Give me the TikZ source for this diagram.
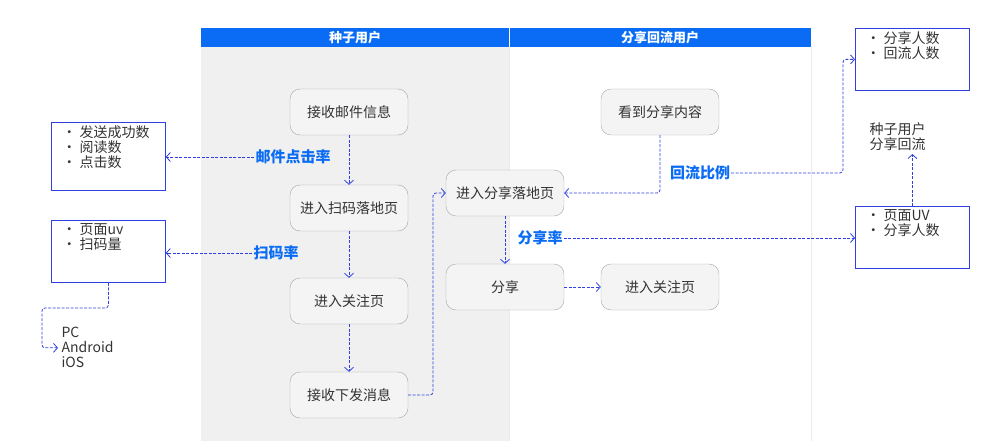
\documentclass[tikz,border=0pt]{standalone}
\usepackage{fontspec}
\setmainfont{Noto Sans CJK SC}
\usetikzlibrary{arrows.meta,calc}
\definecolor{LaneBlue}{HTML}{0A6CF5}
\definecolor{LinkBlue}{HTML}{2F3FE0}
\definecolor{StepGray}{HTML}{F4F4F4}
\newcommand{\statlist}[2]{\parbox[t][#1][t]{92pt}{\setlength{\baselineskip}{15pt}#2}}
\tikzset{
  flowstep/.style={draw=black!35,fill=StepGray,rounded corners=10pt,minimum width=118pt,minimum height=46pt,font=\fontsize{14}{16}\selectfont,text=black!80},
  stat/.style={draw=LinkBlue,thick,align=left,anchor=north west,inner xsep=11pt,inner ysep=3pt,font=\fontsize{14}{15}\selectfont,text=black!80},
  link/.style={draw=LinkBlue,dashed,thick,dash pattern=on 3pt off 1.5pt,-{Straight Barb[length=4pt,width=9pt]},rounded corners=3pt},
  rate/.style={text=LaneBlue,font=\bfseries\fontsize{15}{17}\selectfont,inner sep=1pt}
}
\begin{document}
\begin{tikzpicture}[x=1pt,y=-1pt]
  \useasboundingbox (0,0) rectangle (998,441);
  % swim lanes
  \fill[black!6] (201,47) rectangle (509,441);
  \draw[black!8] (509,47) -- (509,441) (811,47) -- (811,441);
  \fill[LaneBlue] (201,28) rectangle (811,47);
  \draw[white] (509,28) -- (509,47);
  \node[white,font=\bfseries\fontsize{13}{14}\selectfont] at (355,37.5) {种子用户};
  \node[white,font=\bfseries\fontsize{13}{14}\selectfont] at (660,37.5) {分享回流用户};

  % steps
  \node[flowstep] (mail) at (349,112) {接收邮件信息};
  \node[flowstep] (scan) at (349,208) {进入扫码落地页};
  \node[flowstep] (follow) at (349,301) {进入关注页};
  \node[flowstep] (push) at (349,395) {接收下发消息};
  \node[flowstep] (see) at (660,112) {看到分享内容};
  \node[flowstep] (land) at (505,193) {进入分享落地页};
  \node[flowstep] (share) at (505,287) {分享};
  \node[flowstep] (follow2) at (660,287) {进入关注页};

  % stat boxes
  \node[stat] (mailstat) at (51,122) {\statlist{62pt}{• 发送成功数\\• 阅读数\\• 点击数}};
  \node[stat] (scanstat) at (51,220) {\statlist{56pt}{• 页面uv\\• 扫码量}};
  \node[stat] (backstat) at (855,28) {\statlist{56pt}{• 分享人数\\• 回流人数}};
  \node[stat] (sharestat) at (855,206) {\statlist{56pt}{• 页面UV\\• 分享人数}};
  \node[align=left,anchor=north west,font=\fontsize{14}{15}\selectfont,text=black!80] (device) at (58,324) {PC\\Android\\iOS};
  \node[align=left,anchor=north west,font=\fontsize{14}{15}\selectfont,text=black!80] (seedback) at (866,119) {种子用户\\分享回流};

  % rates
  \node[rate] (mailrate) at (293,157) {邮件点击率};
  \node[rate] (scanrate) at (276,253) {扫码率};
  \node[rate] (backrate) at (700,173) {回流比例};
  \node[rate] (sharerate) at (540,238) {分享率};

  % flow
  \draw[link] (mail) -- (scan);
  \draw[link] (scan) -- (follow);
  \draw[link] (follow) -- (push);
  \draw[link] (push.east) -| (433,300) |- (land.west);
  \draw[link] (see.south) |- (land.east);
  \draw[link] (land.south) -- (share.north);
  \draw[link] (share) -- (follow2);

  % metrics
  \draw[link] (mailrate.west) -- (mailstat.east |- mailrate.west);
  \draw[link] (scanrate.west) -- (scanstat.east |- scanrate.west);
  \draw[link] (sharerate.east) -- (sharestat.west |- sharerate.east);
  \draw[link] (backrate.east) -| (843,100) |- (backstat.west);
  \draw[link] (sharestat.north) -- (seedback.south -| sharestat.north);
  \draw[link] (scanstat.south) |- (76,308) -- (42,308) |- (device.west);
\end{tikzpicture}
\end{document}
